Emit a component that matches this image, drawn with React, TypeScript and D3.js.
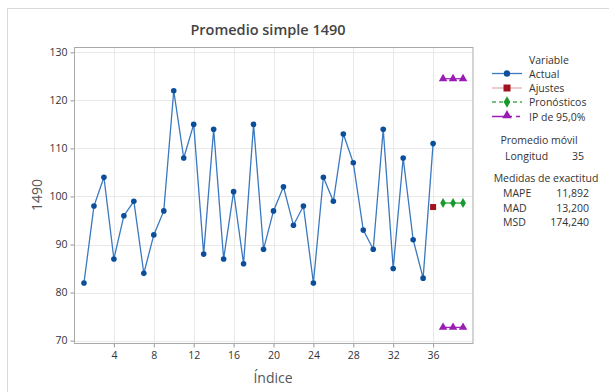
import React, { useEffect, useRef } from 'react';
import * as d3 from 'd3';

const actual = [82, 98, 104, 87, 96, 99, 84, 92, 97, 122, 108, 115, 88, 114, 87, 101, 86, 115,
  89, 97, 102, 94, 98, 82, 104, 99, 113, 107, 93, 89, 114, 85, 108, 91, 83, 111];
const fitIndex = [36];
const fitValues = [97.8];
const forecastIndex = [37, 38, 39];
const forecastValues = [98.63, 98.63, 98.63];
const upperPI = [124.5, 124.5, 124.5];
const lowerPI = [72.76, 72.76, 72.76];
const xTicks = [4, 8, 12, 16, 20, 24, 28, 32, 36];
const yTicks = [70, 80, 90, 100, 110, 120, 130];
const legendItems = ['Actual', 'Ajustes', 'Pronósticos', 'IP de 95,0%'];
const accuracyLabels = ['MAPE', 'MAD', 'MSD'];
const accuracyValues = ['11,892', '13,200', '174,240'];

const FONT = '"Open Sans", "Noto Sans", sans-serif';
const BLUE = '#0b4f9c';
const RED = '#a3121c';
const GREEN = '#179a2c';
const PURPLE = '#9a1cb5';

const App = () => {
  const ref = useRef<SVGSVGElement>(null);

  useEffect(() => {
    const svg = d3.select(ref.current);
    svg.selectAll('*').remove();

    const left = 74.5, right = 473, top = 47.5, bottom = 343.5;
    const x = d3.scaleLinear().domain([0, 40]).range([74, 473]);
    const y = d3.scaleLinear().domain([69.4, 131]).range([bottom, top]);

    svg.append('rect').attr('width', 609).attr('height', 392).attr('fill', '#fff');
    svg.append('rect')
      .attr('x', 7.5).attr('y', 8.5).attr('width', 700).attr('height', 500)
      .attr('fill', 'none').attr('stroke', '#d9d9d9');

    // rejilla
    const grid = svg.append('g');
    grid.selectAll('.gy').data(yTicks).enter().append('line')
      .attr('x1', left).attr('x2', right)
      .attr('y1', d => Math.round(y(d)) + 0.5).attr('y2', d => Math.round(y(d)) + 0.5)
      .attr('stroke', '#e9e9e9');
    grid.selectAll('.gx').data(xTicks).enter().append('line')
      .attr('y1', top).attr('y2', bottom)
      .attr('x1', d => Math.round(x(d)) + 0.5).attr('x2', d => Math.round(x(d)) + 0.5)
      .attr('stroke', '#e9e9e9');

    // ejes
    const yAxis = svg.append('g')
      .attr('transform', `translate(${left},0)`)
      .call(d3.axisLeft(y).tickValues(yTicks).tickSize(4).tickPadding(3));
    const xAxis = svg.append('g')
      .attr('transform', `translate(0,${bottom})`)
      .call(d3.axisBottom(x).tickValues(xTicks).tickSize(4).tickPadding(4));
    [yAxis, xAxis].forEach(a => {
      a.select('.domain').remove();
      a.selectAll('line').attr('stroke', '#999');
      a.selectAll('text').attr('fill', '#333').style('font-family', FONT).style('font-size', '10.5px');
    });

    svg.append('rect')
      .attr('x', left).attr('y', top).attr('width', right - left).attr('height', bottom - top)
      .attr('fill', 'none').attr('stroke', '#aaa');

    // serie actual
    const line = d3.line<number>().x((_, i) => x(i + 1)).y(d => y(d));
    svg.append('path').datum(actual).attr('d', line)
      .attr('fill', 'none').attr('stroke', '#3a78c0').attr('stroke-width', 1.3);
    svg.selectAll('.pt').data(actual).enter().append('circle')
      .attr('cx', (_, i) => x(i + 1)).attr('cy', d => y(d)).attr('r', 2.8)
      .attr('fill', BLUE);

    // ajustes
    svg.selectAll('.fit').data(fitValues).enter().append('rect')
      .attr('x', (_, i) => x(fitIndex[i]) - 3).attr('y', d => y(d) - 3)
      .attr('width', 6).attr('height', 6).attr('fill', RED);

    // pronósticos e intervalos
    const drawSeries = (vals: number[], color: string, symbol: d3.SymbolType, size: number) => {
      const l = d3.line<number>().x((_, i) => x(forecastIndex[i])).y(d => y(d));
      svg.append('path').datum(vals).attr('d', l)
        .attr('fill', 'none').attr('stroke', color).attr('stroke-width', 1.2);
      svg.selectAll(null).data(vals).enter().append('path')
        .attr('transform', (d, i) => `translate(${x(forecastIndex[i])},${y(d)})`)
        .attr('d', d3.symbol().type(symbol).size(size)())
        .attr('fill', color);
    };
    drawSeries(upperPI, PURPLE, d3.symbolTriangle, 32);
    drawSeries(lowerPI, PURPLE, d3.symbolTriangle, 32);
    drawSeries(forecastValues, GREEN, d3.symbolDiamond, 28);

    // títulos
    svg.append('text').attr('x', 268).attr('y', 35).attr('text-anchor', 'middle')
      .style('font-family', FONT).style('font-size', '14.5px').style('font-weight', 600)
      .attr('fill', '#444').text('Promedio simple 1490');
    svg.append('text').attr('x', 273).attr('y', 383).attr('text-anchor', 'middle')
      .style('font-family', FONT).style('font-size', '14px')
      .attr('fill', '#555').text('Índice');
    svg.append('text').attr('transform', 'translate(42,195) rotate(-90)').attr('text-anchor', 'middle')
      .style('font-family', FONT).style('font-size', '14px')
      .attr('fill', '#555').text('1490');

    // leyenda
    const lg = svg.append('g').style('font-family', FONT).style('font-size', '10.5px').attr('fill', '#333');
    lg.append('text').attr('x', 529).attr('y', 64).text('Variable');
    const rowY = [73.5, 88, 102, 116.5];
    const lx1 = 492, lx2 = 522, mx = 507;
    // Actual
    lg.append('line').attr('x1', lx1).attr('x2', lx2).attr('y1', rowY[0]).attr('y2', rowY[0])
      .attr('stroke', '#3a78c0').attr('stroke-width', 1.3);
    lg.append('circle').attr('cx', mx).attr('cy', rowY[0]).attr('r', 3.2).attr('fill', BLUE);
    // Ajustes
    lg.append('line').attr('x1', lx1).attr('x2', lx2).attr('y1', rowY[1]).attr('y2', rowY[1])
      .attr('stroke', '#e6b0b0').attr('stroke-width', 1.3);
    lg.append('rect').attr('x', mx - 3.5).attr('y', rowY[1] - 3.5).attr('width', 7).attr('height', 7).attr('fill', RED);
    // Pronósticos
    lg.append('line').attr('x1', lx1).attr('x2', lx2).attr('y1', rowY[2]).attr('y2', rowY[2])
      .attr('stroke', '#4aaa55').attr('stroke-width', 1.3).attr('stroke-dasharray', '4,3');
    lg.append('path').attr('transform', `translate(${mx},${rowY[2]})`)
      .attr('d', d3.symbol().type(d3.symbolDiamond).size(38)()).attr('fill', GREEN);
    // IP
    lg.append('line').attr('x1', lx1).attr('x2', lx2).attr('y1', rowY[3]).attr('y2', rowY[3])
      .attr('stroke', PURPLE).attr('stroke-width', 1.3).attr('stroke-dasharray', '20,4,4,10');
    lg.append('path').attr('transform', `translate(${mx},${rowY[3] - 1})`)
      .attr('d', d3.symbol().type(d3.symbolTriangle).size(38)()).attr('fill', PURPLE);
    legendItems.forEach((t, i) => {
      lg.append('text').attr('x', 529).attr('y', rowY[i] + 4).text(t);
    });

    lg.append('text').attr('x', 539).attr('y', 144).attr('text-anchor', 'middle').text('Promedio móvil');
    lg.append('text').attr('x', 505).attr('y', 160).text('Longitud');
    lg.append('text').attr('x', 584).attr('y', 160).attr('text-anchor', 'end').text('35');

    lg.append('text').attr('x', 546).attr('y', 182).attr('text-anchor', 'middle').text('Medidas de exactitud');
    accuracyLabels.forEach((t, i) => {
      const yy = 197 + i * 14.5;
      lg.append('text').attr('x', 503).attr('y', yy).text(t);
      lg.append('text').attr('x', 589).attr('y', yy).attr('text-anchor', 'end').text(accuracyValues[i]);
    });
  }, []);

  return (
    <svg ref={ref} width={609} height={392}
      style={{ position: 'absolute', left: 0, top: 0, display: 'block' }} />
  );
};

export default App;
